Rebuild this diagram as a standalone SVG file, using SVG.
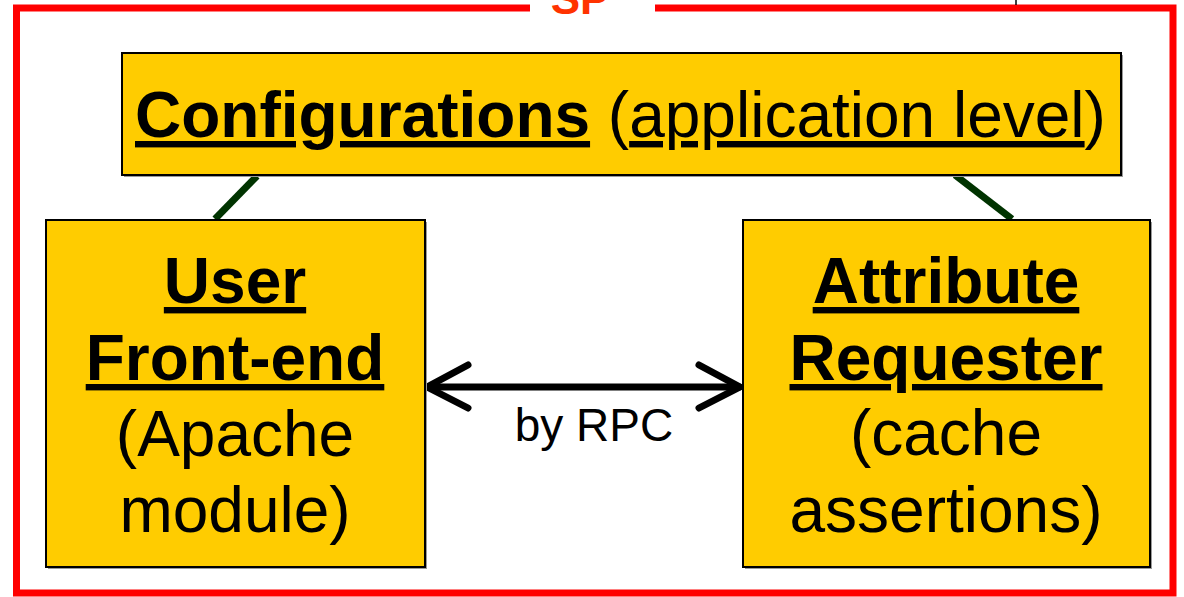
<svg xmlns="http://www.w3.org/2000/svg" width="1184" height="597" viewBox="0 0 1184 597">
<style>
.box{fill:#FFCC00;stroke:#000;stroke-width:2}
.shadow{fill:#9a9a9a}
.t{font-family:"Liberation Sans",Arial,sans-serif;font-size:64px;fill:#000}
.b{font-weight:bold}
.u{text-decoration:underline}
.link{stroke:#003300;stroke-width:7}
.arrow{stroke:#000;stroke-width:7;fill:none;stroke-linecap:round;stroke-linejoin:round}
</style>
<rect width="1184" height="597" fill="#fff"/>
<g id="frame">
<path d="M530 8 H16.5 V593 H1173 V8 H655" fill="none" stroke="#FF0000" stroke-width="7"/>
<line x1="1016" y1="0" x2="1016" y2="5" stroke="#000" stroke-width="1.5"/>
<text x="580" y="14" text-anchor="middle" font-family="Liberation Sans,Arial,sans-serif" font-weight="bold" font-size="44" fill="#FF3300">SP</text>
</g>
<g id="connectors">
<line class="link" x1="215" y1="219" x2="257" y2="176"/>
<line class="link" x1="955" y1="175" x2="1012" y2="219"/>
<line class="arrow" x1="428" y1="387" x2="739" y2="387"/>
<polyline class="arrow" points="468,365 427,387 468,408"/>
<polyline class="arrow" points="699,365 740,387 699,408"/>
<text x="594" y="441" text-anchor="middle" font-family="Liberation Sans,Arial,sans-serif" font-size="46" fill="#000">by RPC</text>
</g>
<g id="config">
<rect class="shadow" x="124" y="55" width="999" height="122"/>
<rect class="box" x="122" y="53" width="999" height="122"/>
<text class="t" x="135" y="137"><tspan class="b u">Configurations</tspan> (<tspan class="u">application level</tspan>)</text>
</g>
<g id="frontend">
<rect class="shadow" x="48" y="222" width="379" height="347"/>
<rect class="box" x="46" y="220" width="379" height="347"/>
<text class="t b u" x="235" y="303" text-anchor="middle">User</text>
<text class="t b u" x="235" y="380" text-anchor="middle">Front-end</text>
<text class="t" x="235" y="456" text-anchor="middle">(Apache</text>
<text class="t" x="235" y="532" text-anchor="middle">module)</text>
</g>
<g id="requester">
<rect class="shadow" x="745" y="222" width="407" height="347"/>
<rect class="box" x="743" y="220" width="407" height="347"/>
<text class="t b u" x="946" y="303" text-anchor="middle">Attribute</text>
<text class="t b u" x="946" y="380" text-anchor="middle">Requester</text>
<text class="t" x="946" y="455" text-anchor="middle">(cache</text>
<text class="t" x="946" y="532" text-anchor="middle">assertions)</text>
</g>
</svg>
